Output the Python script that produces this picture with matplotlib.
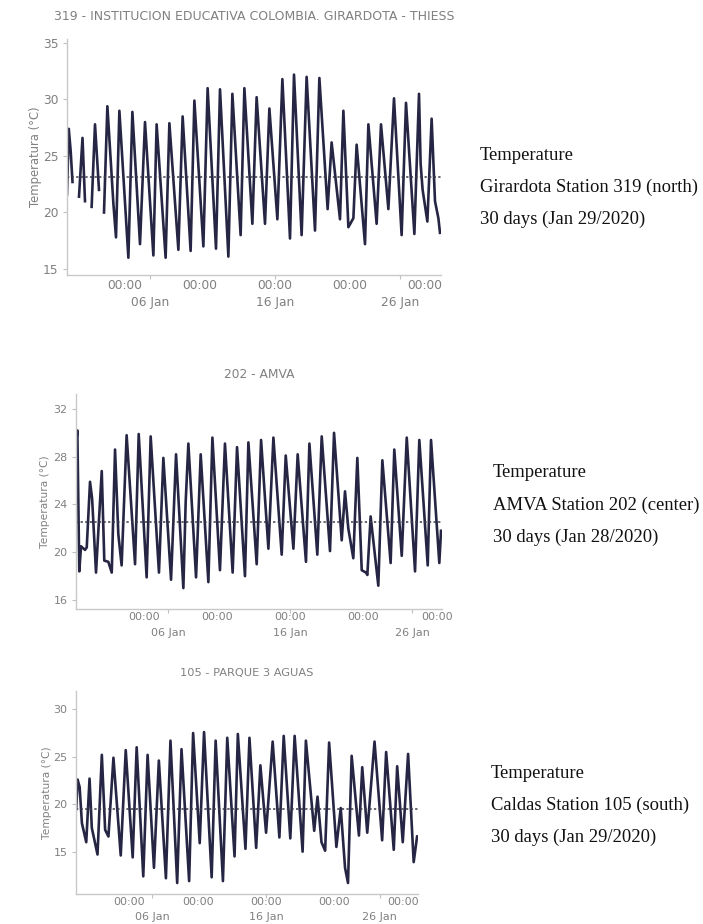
import numpy as np
import pandas as pd
import matplotlib
matplotlib.use("Agg")
import matplotlib.pyplot as plt
import matplotlib.dates as mdates

base = pd.Timestamp("2020-01-06")
nan = np.nan

# Estación 319 - días desde el 06 ene y temperatura (°C); nan = hueco en el registro
dias_319 = [-6.64, -6.5, -6.35, -6.2, -5.9,
            -5.68, -5.4, -5.2, -4.9,
            -4.67, -4.4, -4.08, -3.9,
            -3.68, -3.41, -2.93, -2.72, -2.45, -1.73, -1.41, -0.8, -0.4, 0.27, 0.53,
            1.25, 1.55, 2.27, 2.61, 3.25, 3.55, 4.27, 4.61, 5.28, 5.6, 6.27, 6.59,
            7.25, 7.55, 8.19, 8.53, 9.2, 9.55, 10.19, 10.59, 11.2, 11.52, 12.13, 12.53,
            13.2, 13.55, 14.21, 14.53, 15.2, 15.47, 15.87, 16.27, 16.53, 17.2, 17.47,
            18.13, 18.48, 19.07, 19.52, 20.13, 20.48, 21.15, 21.52, 21.65, 21.81,
            22.19, 22.53, 22.8, 23.07, 23.2]
temp_319 = [21.6, 27.4, 25.5, 22.7, nan,
            21.4, 26.6, 21.0, nan,
            20.5, 27.8, 22.0, nan,
            20.0, 29.4, 20.8, 17.8, 29.0, 16.0, 28.9, 17.2, 28.0, 16.2, 27.8,
            16.0, 27.9, 16.7, 28.5, 16.6, 29.9, 17.0, 31.0, 16.8, 30.9, 16.1, 30.5,
            18.0, 31.0, 19.0, 30.2, 19.0, 29.2, 19.4, 31.8, 17.7, 32.2, 18.0, 32.0,
            18.4, 31.9, 20.3, 26.2, 19.4, 29.0, 18.7, 19.5, 26.0, 17.2, 27.8,
            19.0, 27.8, 20.3, 30.1, 18.0, 29.7, 18.1, 30.5, 24.3, 22.0,
            19.2, 28.3, 21.0, 19.5, 18.2]
media_319 = 23.15

# Estación 202
dias_202 = [-7.57, -7.46, -7.3, -7.16, -6.83, -6.69, -6.42, -6.25, -5.93, -5.46,
            -5.25, -4.92, -4.64, -4.37, -4.1, -3.83, -3.42, -2.73, -2.43, -1.78,
            -1.45, -0.77, -0.41, 0.22, 0.63, 1.23, 1.42, 1.64, 2.27, 2.65, 3.28,
            3.61, 4.23, 4.64, 5.27, 5.63, 6.28, 6.56, 7.24, 7.6, 8.2, 8.61, 9.29,
            9.62, 10.25, 10.6, 11.28, 11.56, 12.21, 12.57, 13.25, 13.58, 14.21,
            14.48, 14.75, 15.16, 15.49, 15.85, 16.2, 16.31, 16.58, 17.21, 17.54,
            18.22, 18.52, 19.13, 19.54, 20.22, 20.57, 21.26, 21.53, 22.21, 22.35]
temp_202 = [29.0, 30.2, 18.4, 20.5, 20.2, 20.4, 25.9, 24.5, 18.3, 26.8,
            19.3, 19.2, 18.3, 28.6, 21.5, 18.9, 29.8, 19.0, 29.9, 17.9,
            29.7, 18.3, 27.9, 17.7, 28.2, 17.0, 24.2, 29.1, 17.9, 28.2, 17.5,
            29.6, 18.5, 29.1, 18.3, 28.8, 18.0, 29.2, 19.0, 29.4, 20.3, 29.6, 19.8,
            28.1, 20.3, 28.2, 19.2, 29.1, 19.8, 29.7, 20.1, 30.0, 21.0,
            25.1, 22.0, 19.5, 27.9, 18.5, 18.3, 18.1, 23.0, 17.2, 27.7,
            19.1, 28.6, 19.7, 29.6, 18.4, 29.4, 18.9, 29.4, 19.1, 21.8]
media_202 = 22.57

# Estación 105
dias_105 = [-6.68, -6.56, -6.38, -6.18, -5.8, -5.51, -5.31, -4.81, -4.43, -4.14,
            -3.85, -3.41, -2.77, -2.33, -1.72, -1.37, -0.79, -0.41, 0.15, 0.58,
            1.2, 1.6, 2.19, 2.57, 3.24, 3.59, 4.17, 4.55, 5.22, 5.57, 6.21, 6.59,
            7.23, 7.52, 8.19, 8.54, 9.13, 9.5, 10.0, 10.58, 11.17, 11.55, 12.13,
            12.51, 13.21, 13.5, 14.23, 14.52, 14.87, 15.19, 15.54, 16.18, 16.56,
            16.94, 17.2, 17.52, 18.16, 18.45, 18.89, 19.53, 20.2, 20.55, 21.22,
            21.52, 22.01, 22.48, 22.97, 23.27]
temp_105 = [19.5, 22.6, 21.8, 18.0, 16.0, 22.7, 17.5, 14.7, 25.2, 17.3,
            16.6, 24.9, 14.6, 25.7, 14.4, 26.0, 12.4, 25.2, 13.3, 24.6,
            12.2, 26.7, 11.7, 25.8, 11.9, 27.5, 15.9, 27.6, 12.3, 26.7, 11.9, 27.0,
            14.5, 27.4, 15.3, 27.0, 15.4, 24.1, 17.0, 26.6, 16.5, 27.2, 16.4,
            27.2, 15.0, 26.7, 17.2, 20.8, 16.0, 15.1, 26.5, 15.5, 19.6,
            13.3, 11.7, 25.1, 16.7, 23.9, 17.0, 26.6, 16.2, 25.5, 15.2,
            24.0, 16.0, 25.3, 13.9, 16.6]
media_105 = 19.5

titulos = ["319 - INSTITUCION EDUCATIVA COLOMBIA. GIRARDOTA - THIESS",
           "202 - AMVA",
           "105 - PARQUE 3 AGUAS"]
notas = [["Temperature", "Girardota Station 319 (north)", "30 days (Jan 29/2020)"],
         ["Temperature", "AMVA Station 202 (center)", "30 days (Jan 28/2020)"],
         ["Temperature", "Caldas Station 105 (south)", "30 days (Jan 29/2020)"]]
yticks = [[15, 20, 25, 30, 35], [16, 20, 24, 28, 32], [15, 20, 25, 30]]

W, H = 703, 924
# cajas de cada panel en píxeles: izquierda, arriba, derecha, abajo
cajas = [(67, 39, 441, 275), (76, 394, 442, 609), (76, 691, 418, 894)]
xlims = [(-6.64, 23.28), (-7.57, 22.43), (-6.7, 23.35)]
ylims = [(14.47, 35.35), (15.25, 33.25), (10.54, 31.93)]
fs = [8.8, 8.0, 8.0]
fs_titulo = [9.0, 8.8, 8.2]
fs_ylab = [8.4, 7.7, 7.7]
title_pad = [13.5, 11.5, 11.0]
ylab_x = [-0.067, -0.071, -0.070]
pad_hora = [2.9, 2.5, 2.5]
pad_fecha = [12.2, 10.4, 9.7]
nota_xy = [(480, 155), (493, 473), (491, 773)]
nota_paso = [32, 32, 32]

linea = "#262644"
gris = "#808080"

fig = plt.figure(figsize=(W / 100, H / 100), dpi=100)

series = [(dias_319, temp_319, media_319),
          (dias_202, temp_202, media_202),
          (dias_105, temp_105, media_105)]

for i, (dias, temp, media) in enumerate(series):
    l, t, r, b = cajas[i]
    ax = fig.add_axes([l / W, 1 - b / H, (r - l) / W, (b - t) / H])
    x = base + pd.to_timedelta(np.array(dias), unit="D")
    ax.plot(x, temp, color=linea, lw=1.9, solid_joinstyle="round")
    ax.axhline(media, color="#3a3a4a", lw=1.1, ls=(0, (1.5, 1.5)))

    ax.set_xlim(base + pd.Timedelta(days=xlims[i][0]), base + pd.Timedelta(days=xlims[i][1]))
    ax.set_ylim(*ylims[i])
    ax.set_yticks(yticks[i])

    ax.xaxis.set_major_locator(mdates.DayLocator(bymonthday=[6, 16, 26]))
    ax.xaxis.set_major_formatter(mdates.DateFormatter("%d %b"))
    ax.xaxis.set_minor_locator(mdates.DayLocator(bymonthday=[4, 10, 16, 22, 28]))
    ax.xaxis.set_minor_formatter(mdates.DateFormatter("%H:%M"))
    ax.xaxis.remove_overlapping_locs = False

    ax.tick_params(axis="x", which="major", length=3, width=0.8, color="#c0c0c0",
                   pad=pad_fecha[i], labelsize=fs[i], labelcolor=gris)
    ax.tick_params(axis="x", which="minor", length=0, pad=pad_hora[i],
                   labelsize=fs[i], labelcolor=gris)
    ax.tick_params(axis="y", length=3, width=0.8, color="#c0c0c0", pad=3,
                   labelsize=fs[i], labelcolor=gris)

    for s in ["top", "right"]:
        ax.spines[s].set_visible(False)
    for s in ["left", "bottom"]:
        ax.spines[s].set_color("#c8c8c8")
        ax.spines[s].set_linewidth(1.0)

    ax.set_title(titulos[i], fontsize=fs_titulo[i], color=gris, pad=title_pad[i])
    ax.set_ylabel("Temperatura (°C)", fontsize=fs_ylab[i], color=gris)
    ax.yaxis.set_label_coords(ylab_x[i], 0.5)

    nx, ny = nota_xy[i]
    for k, txt in enumerate(notas[i]):
        fig.text(nx / W, 1 - (ny + k * nota_paso[i]) / H, txt, family="Liberation Serif",
                 fontsize=13.4, color="#111111", ha="left", va="center")

fig.savefig("out.png", dpi=100)
